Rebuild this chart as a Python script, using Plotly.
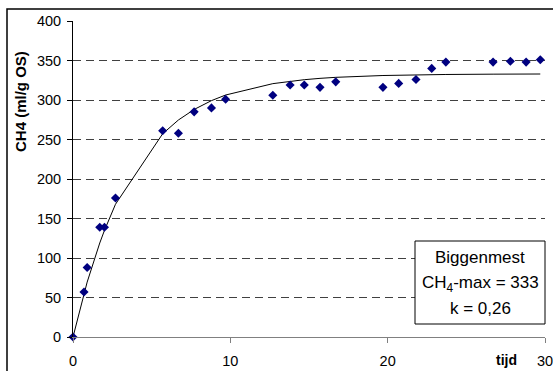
import plotly.graph_objects as go

# Data: time (tijd) and CH4 production (ml/g OS)
tijd = [0, 0.7, 0.9, 1.7, 2.0, 2.7, 5.7, 6.7, 7.7, 8.8, 9.7, 12.7, 13.8, 14.7,
        15.7, 16.7, 19.7, 20.7, 21.8, 22.8, 23.7, 26.7, 27.8, 28.8, 29.7]
ch4 = [0, 57, 88, 139, 139, 176, 261, 258, 285, 290, 301, 306, 319, 319,
       316, 323, 316, 321, 326, 340, 348, 348, 349, 348, 351]
# Fitted model curve (CH4-max = 333, k = 0.26)
fit = [0, 55.4, 69.5, 119.0, 135.0, 168.0, 257.3, 274.7, 288.0, 299.2, 306.3,
       320.7, 323.8, 325.7, 327.4, 328.7, 331.0, 331.5, 331.8, 332.1, 332.3,
       332.7, 332.8, 332.9, 332.9]

x_ticks = [0, 10, 20, 30]
y_ticks = [0, 50, 100, 150, 200, 250, 300, 350, 400]

FONT = "Liberation Sans, Arial, sans-serif"

fig = go.Figure()
fig.add_trace(go.Scatter(x=tijd, y=fit, mode="lines",
                         line=dict(color="black", width=1), cliponaxis=False,
                         showlegend=False, hoverinfo="skip"))
fig.add_trace(go.Scatter(x=tijd, y=ch4, mode="markers",
                         marker=dict(symbol="diamond", size=7, color="#000080",
                                     line=dict(width=0)),
                         cliponaxis=False, showlegend=False))

W, H = 553, 371
L, R, T, B = 73, 8, 21, 34
pw, ph = W - L - R, H - T - B

def px(xp):
    return (xp - L) / pw

def py(yp):
    return (H - B - yp) / ph

fig.update_layout(
    width=W, height=H,
    margin=dict(l=L, r=R, t=T, b=B, pad=0, autoexpand=False),
    paper_bgcolor="white", plot_bgcolor="white",
    font=dict(family=FONT, size=14, color="black"),
    xaxis=dict(range=[0, 30], tickvals=x_ticks, showgrid=False, zeroline=False,
               showline=True, linecolor="#808080", linewidth=1,
               ticks="outside", ticklen=5, tickcolor="#808080",
               tickfont=dict(size=14.5), ticklabelstandoff=6,
               ticklabeloverflow="allow", automargin=False),
    yaxis=dict(range=[0, 400], tickvals=y_ticks, showgrid=True,
               gridcolor="#404040", griddash="8px,5px", gridwidth=1,
               zeroline=False, showline=True, linecolor="black", linewidth=1,
               ticks="outside", ticklen=5, tickcolor="black",
               tickfont=dict(size=14.5), ticklabelstandoff=3,
               automargin=False),
    shapes=[
        dict(type="rect", xref="paper", yref="paper",
             x0=px(7), x1=1.2, y0=-0.5, y1=py(9),
             line=dict(color="black", width=1.5), fillcolor="rgba(0,0,0,0)",
             layer="below"),
        dict(type="rect", xref="paper", yref="paper",
             x0=px(415), x1=px(545), y0=py(324), y1=py(241),
             line=dict(color="black", width=1), fillcolor="white",
             layer="above"),
    ],
    annotations=[
        dict(text="<b>CH4 (ml/g OS)</b>", xref="paper", yref="paper",
             x=px(20), y=py(102), textangle=-90, showarrow=False,
             font=dict(size=15), xanchor="center", yanchor="middle"),
        dict(text="<b>tijd</b>", xref="paper", yref="paper",
             x=px(506.5), y=py(360), showarrow=False,
             font=dict(size=14), xanchor="center", yanchor="middle"),
        dict(text="Biggenmest", xref="paper", yref="paper",
             x=px(480), y=py(257), showarrow=False, font=dict(size=17),
             xanchor="center", yanchor="middle"),
        dict(text="CH<sub>4</sub>-max = 333", xref="paper", yref="paper",
             x=px(480), y=py(283.7), showarrow=False, font=dict(size=17),
             xanchor="center", yanchor="middle"),
        dict(text="k = 0,26", xref="paper", yref="paper",
             x=px(480), y=py(308), showarrow=False, font=dict(size=17),
             xanchor="center", yanchor="middle"),
    ],
)

fig.write_html("out.html")
